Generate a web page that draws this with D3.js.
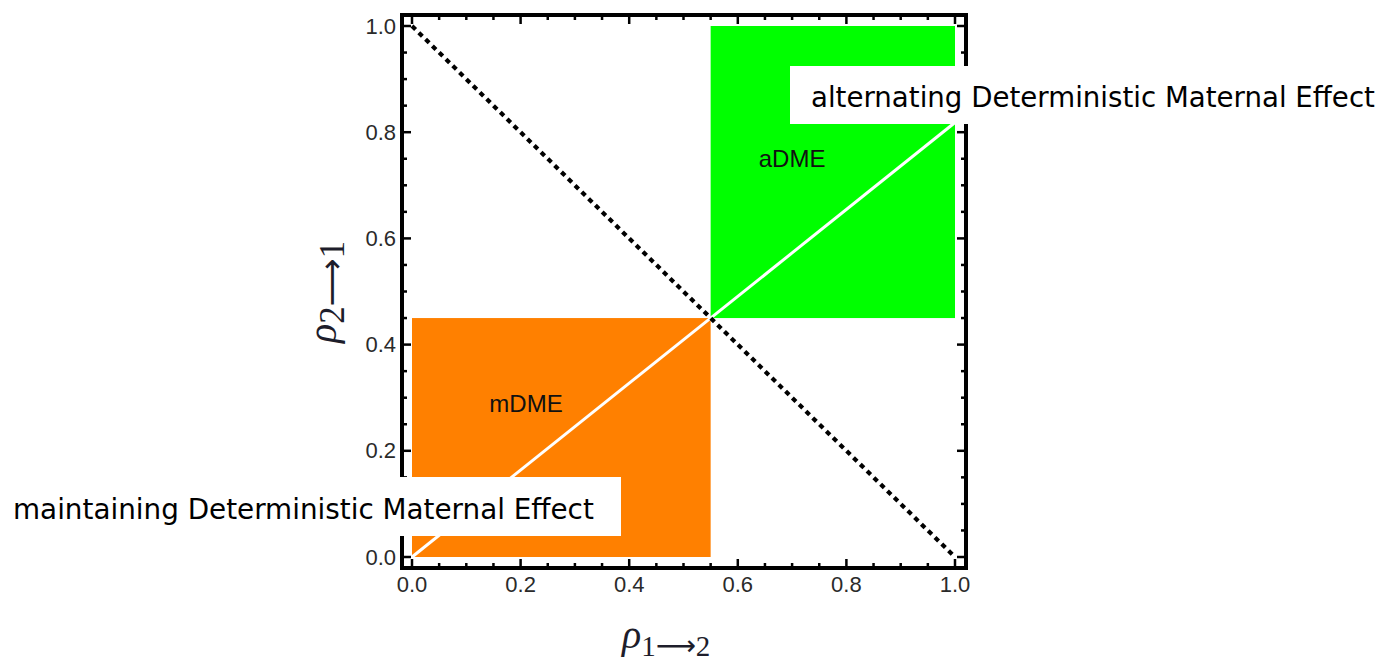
<!DOCTYPE html>
<html>
<head>
<meta charset="utf-8">
<script src="https://cdn.jsdelivr.net/npm/d3@7/dist/d3.min.js"></script>
<style>
  html, body { margin: 0; padding: 0; background: #fff; }
  svg { display: block; }
</style>
</head>
<body>
<svg id="chart" width="1384" height="664"></svg>
<script>
// Regions of the (rho_1->2, rho_2->1) plane
const regionNames = ["mDME", "aDME"];
const regionX0 = [0, 0.55];
const regionX1 = [0.55, 1];
const regionY0 = [0, 0.45];
const regionY1 = [0.45, 1];
const regionColors = ["#ff8000", "#00ff00"];
const regionLabelX = [0.21, 0.70];
const regionLabelY = [0.29, 0.75];

// Boundary lines
const antiDiagonal = [[0, 1], [1, 0]];
const splitLine = [[0, 0], [1, 0.45 / 0.55]];

// Ticks
const tickValues = [0, 0.2, 0.4, 0.6, 0.8, 1.0];
const tickLabels = ["0.0", "0.2", "0.4", "0.6", "0.8", "1.0"];
const minorTickValues = d3.range(0, 21).map(i => i * 0.05);

// Callout texts
const callouts = ["maintaining Deterministic Maternal Effect", "alternating Deterministic Maternal Effect"];

const svg = d3.select("#chart");

const x = d3.scaleLinear().domain([0, 1]).range([412, 955]);
const y = d3.scaleLinear().domain([0, 1]).range([557, 26]);

const frame = { left: 402, right: 966, top: 15, bottom: 568 };

// region rectangles
const regions = regionNames.map((n, i) => ({
  name: n, x0: regionX0[i], x1: regionX1[i], y0: regionY0[i], y1: regionY1[i],
  color: regionColors[i], lx: regionLabelX[i], ly: regionLabelY[i]
}));

svg.append("g").selectAll("rect").data(regions).join("rect")
  .attr("x", d => x(d.x0))
  .attr("y", d => y(d.y1))
  .attr("width", d => x(d.x1) - x(d.x0))
  .attr("height", d => y(d.y0) - y(d.y1))
  .attr("fill", d => d.color);

const line = d3.line().x(d => x(d[0])).y(d => y(d[1]));

svg.append("path").datum(splitLine)
  .attr("d", line)
  .attr("stroke", "#fff").attr("stroke-width", 3).attr("fill", "none");

svg.append("path").datum(antiDiagonal)
  .attr("d", line)
  .attr("stroke", "#000").attr("stroke-width", 4.2)
  .attr("stroke-dasharray", "5,4.5").attr("fill", "none");

svg.append("g").selectAll("text").data(regions).join("text")
  .attr("x", d => x(d.lx)).attr("y", d => y(d.ly))
  .attr("text-anchor", "middle").attr("dominant-baseline", "central")
  .attr("font-family", "'Liberation Sans', Arial, sans-serif")
  .attr("font-size", 24).attr("fill", "#111")
  .text(d => d.name);

// frame
svg.append("rect")
  .attr("x", frame.left).attr("y", frame.top)
  .attr("width", frame.right - frame.left).attr("height", frame.bottom - frame.top)
  .attr("fill", "none").attr("stroke", "#000").attr("stroke-width", 4);

// inward ticks on all four sides
const ticks = svg.append("g").attr("stroke", "#000").attr("stroke-width", 2.5);
const majorSet = new Set(tickValues.map(v => Math.round(v * 100)));
minorTickValues.forEach(v => {
  const len = majorSet.has(Math.round(v * 100)) ? 9 : 5;
  ticks.append("line").attr("x1", x(v)).attr("x2", x(v))
    .attr("y1", frame.bottom).attr("y2", frame.bottom - len);
  ticks.append("line").attr("x1", x(v)).attr("x2", x(v))
    .attr("y1", frame.top).attr("y2", frame.top + len);
  ticks.append("line").attr("y1", y(v)).attr("y2", y(v))
    .attr("x1", frame.left).attr("x2", frame.left + len);
  ticks.append("line").attr("y1", y(v)).attr("y2", y(v))
    .attr("x1", frame.right).attr("x2", frame.right - len);
});

// tick labels
const labelFont = "'Liberation Sans', Helvetica, Arial, sans-serif";
svg.append("g").selectAll("text").data(tickValues).join("text")
  .attr("x", d => x(d)).attr("y", 592)
  .attr("text-anchor", "middle")
  .attr("font-family", labelFont).attr("font-size", 22).attr("fill", "#2a2a2a")
  .text((d, i) => tickLabels[i]);

svg.append("g").selectAll("text").data(tickValues).join("text")
  .attr("x", 396).attr("y", d => y(d))
  .attr("text-anchor", "end").attr("dominant-baseline", "central")
  .attr("font-family", labelFont).attr("font-size", 22).attr("fill", "#2a2a2a")
  .text((d, i) => tickLabels[i]);

// axis titles
const serif = "'Liberation Serif', 'Times New Roman', serif";
function axisTitle(g, a, b, s) {
  const t = g.append("text").attr("font-family", serif).attr("fill", "#1d1d2b");
  t.append("tspan").attr("font-style", "italic").attr("font-size", 40).text("\u03c1");
  t.append("tspan").attr("font-size", 29 * s).attr("dy", 8).text(a);
  t.append("tspan").attr("font-size", 28 * s).attr("font-family", "'DejaVu Sans', sans-serif")
    .attr("dy", -1).text("\u27f6");
  t.append("tspan").attr("font-size", 29 * s).attr("dy", 1).text(b);
  return t;
}
axisTitle(svg.append("g").attr("transform", "translate(622,648)"), "1", "2", 1);
axisTitle(svg.append("g").attr("transform", "translate(336,343) rotate(-90)"), "2", "1", 1.2);

// callout boxes; text is squeezed horizontally to its target width
const calloutFont = "Tahoma, Verdana, 'DejaVu Sans', sans-serif";
const boxes = [
  { text: callouts[0], bx: 0, by: 477, bw: 621, bh: 59, tx: 13, ty: 519, tw: 581 },
  { text: callouts[1], bx: 790, by: 66, bw: 594, bh: 58, tx: 811, ty: 107, tw: 564 }
];
boxes.forEach(b => {
  svg.append("rect").attr("x", b.bx).attr("y", b.by)
    .attr("width", b.bw).attr("height", b.bh).attr("fill", "#fff");
  const t = svg.append("text").attr("x", 0).attr("y", 0)
    .attr("font-family", calloutFont).attr("font-size", 29).attr("fill", "#000")
    .text(b.text);
  const natural = t.node().getComputedTextLength();
  t.attr("transform", `translate(${b.tx},${b.ty}) scale(${b.tw / natural},1)`);
});
</script>
</body>
</html>
